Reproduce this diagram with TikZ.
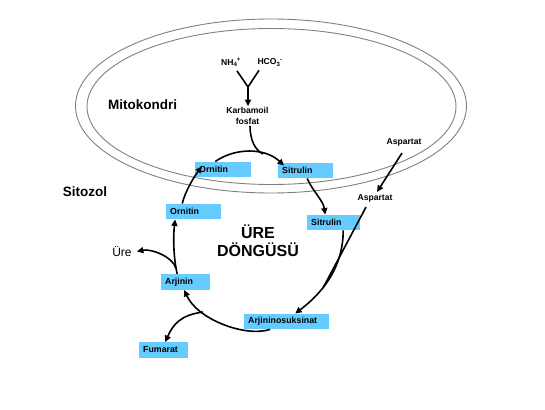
\documentclass[tikz,border=0pt]{standalone}
\usepackage{fontspec}
\setmainfont{Liberation Sans}
\setsansfont{Liberation Sans}
\usetikzlibrary{arrows.meta, positioning, calc}
\definecolor{cell}{HTML}{66CCFF}
\definecolor{memb}{HTML}{808080}
\definecolor{ink}{HTML}{000000}

\begin{document}
\begin{tikzpicture}[x=1pt, y=-1pt, font=\sffamily\bfseries, >={Triangle[length=6.5pt, width=6pt]},
    box/.style={fill=cell, anchor=west, align=left, inner xsep=4pt, inner ysep=1pt, minimum height=15.5pt,
      font=\sffamily\bfseries\fontsize{8.8}{10}\selectfont},
    lbl/.style={inner sep=1pt, align=center, font=\sffamily\bfseries\fontsize{8.6}{11}\selectfont},
    big/.style={inner sep=1pt, font=\sffamily\bfseries\fontsize{13.5}{16}\selectfont},
    flow/.style={->, line width=1.6pt, ink},
    ln/.style={line width=1.6pt, ink},
    mem/.style={draw=memb, line width=0.9pt}]
  \useasboundingbox (0,0) rectangle (545,409);

  % mitochondrion, double membrane
  \draw[mem] (271,106) ellipse [x radius=195.5pt, y radius=87pt];
  \draw[mem] (271.5,106.5) ellipse [x radius=184.5pt, y radius=78pt];
  \node[big] (mito) at (142.5,105) {Mitokondri};
  \node[big] (sito) at (85,192) {Sitozol};

  % inputs
  \node[lbl] (nh)   at (231,62.5) {NH\textsubscript{4}\kern-0.5pt\textsuperscript{+}};
  \node[lbl] (hco)  at (270,62.5) {HCO\textsubscript{3}\kern-0.5pt\textsuperscript{-}};
  \node[lbl] (karb) at (247.5,116) {Karbamoil\\fosfat};
  \node[lbl] (aspU) at (404,142) {Aspartat};
  \node[lbl] (aspL) at (375,198) {Aspartat};
  \node[inner sep=1pt, font=\sffamily\mdseries\fontsize{12}{14}\selectfont] (ure) at (122,251.5) {Üre};
  \node[inner sep=0pt, align=center, font=\sffamily\bfseries\fontsize{16}{18.5}\selectfont] (cyc) at (258,240.5) {ÜRE\\DÖNGÜSÜ};

  % the cycle
  \node[box, text width=48pt] (ornTop)   at (195,169.5) {Ornitin};
  \node[box, text width=47pt] (sitTop)   at (278,170.5) {Sitrulin};
  \node[box, text width=47pt] (ornLow)   at (166,211.5) {Ornitin};
  \node[box, text width=45pt] (sitRight) at (307,222.5) {Sitrulin};
  \node[box, text width=41pt] (arjinin)  at (161,282)   {Arjinin};
  \node[box, text width=77pt] (arjSuk)   at (244,321.5) {Arjininosuksinat};
  \node[box, text width=41pt] (fumarat)  at (139,350)   {Fumarat};

  \coordinate (yj)    at (248,87);
  \coordinate (cjoin) at (263,154);
  \coordinate (amerge) at (323,288);
  \coordinate (fjoin) at (203,312);
  \coordinate (ujoin) at (176,268.5);

  \draw[ln] ([shift={(6,3)}]nh.south) -- (yj);
  \draw[ln] ([shift={(-11,3)}]hco.south) -- (yj);
  \draw[flow] (yj) -- (yj |- karb.north);
  \draw[ln] ([shift={(2.5,0)}]karb.south) .. controls +(0,14) and +(-8,-4) .. (cjoin);

  \draw[flow] ([shift={(-8,0)}]ornTop.north) .. controls +(20,-14) and +(-19,-18) .. ([shift={(6,3)}]sitTop.north west);
  \draw[flow] ([shift={(1.5,0)}]sitTop.south) .. controls +(5,12) and +(-2,-14) .. ([shift={(-8.5,0)}]sitRight.north);
  \draw[flow] ([shift={(9.5,0)}]sitRight.south) .. controls +(0,39) and +(25,-19) .. ([shift={(8.5,0)}]arjSuk.north);
  \draw[flow] ([shift={(-2,6)}]aspU.south) -- ([shift={(2,-1)}]aspL.north);
  \draw[ln] ([shift={(-9,4)}]aspL.south) -- (amerge);
  \draw[flow] ([shift={(-16.5,0)}]arjSuk.south) .. controls +(-26,8) and +(13,29) .. ([shift={(-1.5,0)}]arjinin.south);
  \draw[flow] (fjoin) .. controls +(-22,3) and +(8,-18) .. ([shift={(1.5,0)}]fumarat.north);
  \draw[flow] ([shift={(-8.5,0)}]arjinin.north) .. controls +(-4,-18) and +(-2,16) .. ([shift={(-18.5,0)}]ornLow.south);
  \draw[flow] (ujoin) .. controls +(-3,-12) and +(14,-3) .. ([shift={(4,0)}]ure.east);
  \draw[flow] ([shift={(-11.5,0)}]ornLow.north) .. controls +(3,-12) and +(-8,10) .. ([shift={(7,5)}]ornTop.north west);
\end{tikzpicture}
\end{document}
